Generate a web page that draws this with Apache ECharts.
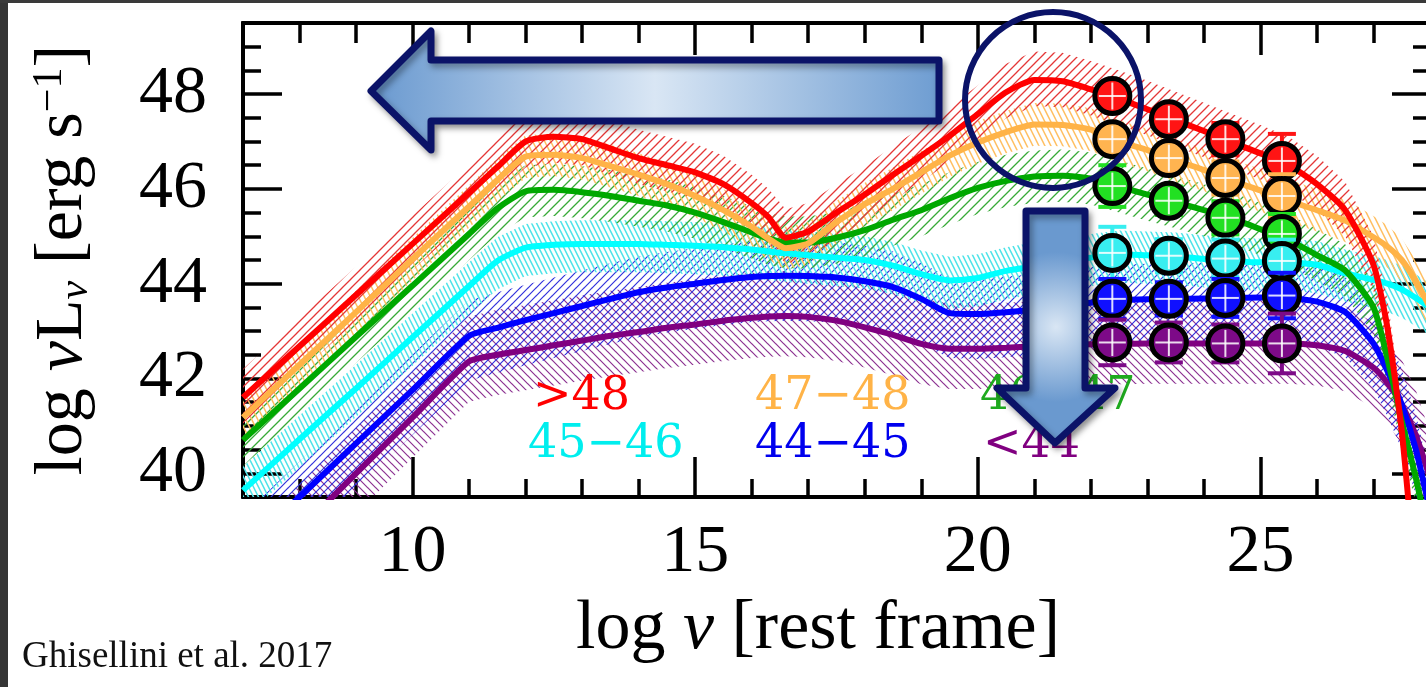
<!DOCTYPE html>
<html>
<head>
<meta charset="utf-8">
<script src="https://cdn.jsdelivr.net/npm/echarts@6/dist/echarts.min.js"></script>
<style>
html,body{margin:0;padding:0;background:#fff;}
#chart{width:1426px;height:687px;}
</style>
</head>
<body>
<div id="chart"></div>
<script>
// ---------------- data ----------------
const groupLabels = ['>48', '47\u221248', '46\u221247', '45\u221246', '44\u221245', '<44'];

// log nu grid on which the average SEDs are sampled
const xGrid = [7, 8, 9, 10, 11, 11.5, 12, 12.5, 13, 13.5, 14, 14.5, 15, 15.5, 16, 16.3, 16.6, 17, 17.5, 18, 18.5, 19, 19.5, 20, 20.5, 21, 21.5, 22, 22.5, 23, 23.5, 24, 24.5, 25, 25.5, 26, 26.5, 27, 27.25, 27.5, 27.75, 28];

// log nuL_nu of the average SED of each gamma-ray luminosity bin
const sedGt48 = [41.6, 42.68, 43.76, 44.84, 45.92, 46.46, 47.0, 47.1, 47.05, 46.85, 46.65, 46.5, 46.35, 46.1, 45.7, 45.4, 44.97, 45.1, 45.5, 45.88, 46.3, 46.7, 47.12, 47.58, 48.04, 48.3, 48.27, 48.1, 47.9, 47.68, 47.45, 47.22, 46.98, 46.75, 46.5, 46.1, 45.55, 44.4, 43.05, 40.9, 37.8, 36.0];
const sed47to48 = [41.18, 42.29, 43.4, 44.52, 45.63, 46.19, 46.68, 46.72, 46.65, 46.48, 46.3, 46.1, 45.85, 45.55, 45.2, 44.95, 44.75, 44.85, 45.3, 45.68, 46.0, 46.35, 46.7, 46.98, 47.2, 47.36, 47.35, 47.25, 47.0, 46.82, 46.6, 46.4, 46.17, 45.97, 45.75, 45.55, 45.33, 44.98, 44.78, 44.5, 44.05, 43.5];
const sed46to47 = [40.7, 41.79, 42.88, 43.96, 45.05, 45.59, 45.95, 45.98, 45.93, 45.85, 45.75, 45.65, 45.5, 45.3, 45.08, 44.95, 44.87, 44.87, 44.97, 45.13, 45.35, 45.55, 45.8, 46.02, 46.17, 46.26, 46.28, 46.22, 46.05, 45.88, 45.72, 45.55, 45.38, 45.15, 44.92, 44.6, 44.28, 43.5, 42.4, 41.1, 39.9, 38.5];
const sed45to46 = [39.64, 40.72, 41.79, 42.87, 43.95, 44.48, 44.76, 44.82, 44.84, 44.84, 44.84, 44.82, 44.8, 44.77, 44.72, 44.68, 44.64, 44.6, 44.55, 44.5, 44.38, 44.2, 44.07, 44.12, 44.27, 44.37, 44.45, 44.55, 44.62, 44.6, 44.58, 44.52, 44.48, 44.45, 44.45, 44.4, 44.22, 44.08, 44.0, 43.88, 43.7, 43.5];
const sed44to45 = [38.37, 39.5, 40.63, 41.76, 42.9, 43.07, 43.23, 43.38, 43.53, 43.68, 43.82, 43.92, 44.0, 44.08, 44.14, 44.16, 44.17, 44.16, 44.13, 44.05, 43.93, 43.68, 43.38, 43.36, 43.4, 43.45, 43.52, 43.6, 43.65, 43.67, 43.68, 43.69, 43.7, 43.71, 43.7, 43.62, 43.4, 42.74, 42.15, 41.45, 40.5, 39.2];
const sedLt44 = [37.6, 38.8, 40.0, 41.18, 42.36, 42.5, 42.6, 42.7, 42.8, 42.9, 42.98, 43.07, 43.14, 43.22, 43.28, 43.31, 43.32, 43.3, 43.22, 43.08, 42.92, 42.73, 42.63, 42.63, 42.65, 42.68, 42.7, 42.72, 42.73, 42.74, 42.74, 42.74, 42.74, 42.74, 42.74, 42.7, 42.58, 42.23, 41.9, 41.45, 40.8, 39.9];

// extent (dex) of the hatched dispersion band above / below each average SED
const bandUp = [0.6, 0.45, 0.55, 0.5, 0.75, 0.95];
const bandDown = [0.55, 0.45, 0.55, 0.6, 0.95, 0.85];

// Fermi/LAT points (log nu) and values per bin
const pointX = [22.38, 23.38, 24.38, 25.38];
const ptsGt48 = [47.96, 47.47, 47.05, 46.59];
const pts47to48 = [47.05, 46.65, 46.23, 45.85];
const pts46to47 = [46.06, 45.75, 45.39, 45.05];
const pts45to46 = [44.65, 44.59, 44.53, 44.48];
const pts44to45 = [43.68, 43.68, 43.7, 43.75];
const ptsLt44 = [42.76, 42.76, 42.74, 42.74];
// error-bar half lengths (dex)
const errGt48 = [0.15, 0.2, 0.34, 0.57];
const err47to48 = [0.2, 0.25, 0.35, 0.46];
const err46to47 = [0.44, 0.3, 0.35, 0.42];
const err45to46 = [0.55, 0.35, 0.4, 0.45];
const err44to45 = [0.42, 0.35, 0.4, 0.48];
const errLt44 = [0.48, 0.42, 0.4, 0.63];

// axis ticks
const xMajorTicks = [10, 15, 20, 25];
const xMinorTicks = [8, 9, 11, 12, 13, 14, 16, 17, 18, 19, 21, 22, 23, 24, 26, 27];
const yMajorTicks = [40, 42, 44, 46, 48];
const yMinorTicks = [40.5, 41, 41.5, 42.5, 43, 43.5, 44.5, 45, 45.5, 46.5, 47, 47.5, 48.5, 49];

// ---------------- styling ----------------
const seds = [sedGt48, sed47to48, sed46to47, sed45to46, sed44to45, sedLt44];
const pts = [ptsGt48, pts47to48, pts46to47, pts45to46, pts44to45, ptsLt44];
const errs = [errGt48, err47to48, err46to47, err45to46, err44to45, errLt44];
const lineColors = ['#ff0000', '#ffb347', '#00a800', '#00ffff', '#0000ff', '#800080'];
const pointColors = ['#ff1414', '#ffb450', '#22e022', '#38eef0', '#1010ff', '#7d0a88'];
const textColors = ['#ff0000', '#ffb347', '#1eaa1e', '#00eeee', '#0000ee', '#800080'];
const hatchDefs = [
  {c: 'rgb(228,55,55)', d: '/', w: 9, h: 9, lw: 1.3},
  {c: 'rgb(255,192,100)', d: '\\', w: 6, h: 12, lw: 1.5},
  {c: 'rgb(55,170,55)', d: '/', w: 10, h: 10, lw: 1.3},
  {c: 'rgb(80,228,232)', d: '\\', w: 5, h: 10, lw: 1.5},
  {c: 'rgb(50,50,220)', d: '/', w: 8, h: 8, lw: 1.2},
  {c: 'rgb(140,50,145)', d: '\\', w: 8, h: 8, lw: 1.2}
];
const SERIF = 'Liberation Serif';

function hatch(def) {
  const cv = document.createElement('canvas');
  cv.width = def.w; cv.height = def.h;
  const g = cv.getContext('2d');
  g.strokeStyle = def.c; g.lineWidth = def.lw; g.lineCap = 'square';
  g.beginPath();
  for (let k = -1; k <= 1; k++) {
    if (def.d === '/') { g.moveTo(k * def.w, def.h); g.lineTo(k * def.w + def.w, 0); }
    else { g.moveTo(k * def.w, 0); g.lineTo(k * def.w + def.w, def.h); }
  }
  g.stroke();
  return {image: cv, repeat: 'repeat'};
}

const series = [];
// hatched bands: polygon between sed - down and sed + up, placed with the axes' scales
for (let i = seds.length - 1; i >= 0; i--) {
  const rows = xGrid.map((x, k) => [x, seds[i][k] - bandDown[i], seds[i][k] + bandUp[i]]);
  const fillPattern = hatch(hatchDefs[i]);
  series.push({
    type: 'custom', silent: true, z: 1, clip: true,
    data: rows,
    renderItem: function (params, api) {
      if (params.dataIndex !== 0) return null;
      const upper = rows.map(r => api.coord([r[0], r[2]]));
      const lower = rows.map(r => api.coord([r[0], r[1]])).reverse();
      return {type: 'polygon', shape: {points: upper.concat(lower)}, style: {fill: fillPattern, stroke: null}};
    }
  });
}
// average SED lines
for (let i = seds.length - 1; i >= 0; i--) {
  series.push({
    type: 'line', name: groupLabels[i], symbol: 'none', smooth: 0.2, z: 3,
    lineStyle: {color: lineColors[i], width: 6},
    data: xGrid.map((x, k) => [x, seds[i][k]])
  });
}
// gamma-ray points with error bars
for (let i = 0; i < pts.length; i++) {
  const col = pointColors[i];
  series.push({
    type: 'custom', z: 6,
    data: pointX.map((x, k) => [x, pts[i][k], pts[i][k] - errs[i][k], pts[i][k] + errs[i][k]]),
    renderItem: function (params, api) {
      const c = api.coord([api.value(0), api.value(1)]);
      const lo = api.coord([api.value(0), api.value(2)]);
      const hi = api.coord([api.value(0), api.value(3)]);
      const cap = 14, r = 17.5;
      const ls = {stroke: col, lineWidth: 4};
      const ws = {stroke: 'rgba(255,255,255,0.85)', lineWidth: 2};
      return {type: 'group', children: [
        {type: 'line', shape: {x1: c[0], y1: lo[1], x2: c[0], y2: hi[1]}, style: ls},
        {type: 'line', shape: {x1: c[0] - cap, y1: lo[1], x2: c[0] + cap, y2: lo[1]}, style: ls},
        {type: 'line', shape: {x1: c[0] - cap, y1: hi[1], x2: c[0] + cap, y2: hi[1]}, style: ls},
        {type: 'circle', shape: {cx: c[0], cy: c[1], r: r}, style: {fill: col, stroke: '#000', lineWidth: 5}},
        {type: 'line', shape: {x1: c[0] - r + 4, y1: c[1], x2: c[0] + r - 4, y2: c[1]}, style: ws},
        {type: 'line', shape: {x1: c[0], y1: c[1] - r + 4, x2: c[0], y2: c[1] + r - 4}, style: ws}
      ]};
    }
  });
}

function xAx(pos, ticks, len, labels, extra) {
  return Object.assign({
    type: 'value', min: 7, max: 28, position: pos,
    axisLine: {show: true, onZero: false, lineStyle: {color: '#000', width: 4}},
    axisTick: {show: true, inside: true, length: len, customValues: ticks, lineStyle: {color: '#000', width: 3.5}},
    axisLabel: labels ? {show: true, customValues: labels, fontFamily: SERIF, fontSize: 68, color: '#000', margin: 22} : {show: false},
    splitLine: {show: false}
  }, extra || {});
}
function yAx(pos, ticks, len, labels, extra) {
  return Object.assign({
    type: 'value', min: 39.5, max: 49.5, position: pos,
    axisLine: {show: true, onZero: false, lineStyle: {color: '#000', width: 4}},
    axisTick: {show: true, inside: true, length: len, customValues: ticks, lineStyle: {color: '#000', width: 3.5}},
    axisLabel: labels ? {show: true, customValues: labels, fontFamily: SERIF, fontSize: 68, color: '#000', margin: 36} : {show: false},
    splitLine: {show: false}
  }, extra || {});
}

const graphics = [
  {type: 'rect', shape: {x: 0, y: 0, width: 8, height: 687}, style: {fill: '#353535'}, z: 200},
  {type: 'rect', shape: {x: 0, y: 0, width: 1426, height: 3}, style: {fill: '#3a3a3a'}, z: 200},
  {type: 'text', x: 22, y: 657, style: {text: 'Ghisellini et al. 2017', fontFamily: SERIF, fontSize: 37, fill: '#111', verticalAlign: 'middle'}, z: 60}
];
const legendPos = [[533, 397], [755, 397], [980, 397], [528, 445], [755, 445], [983, 445]];
groupLabels.forEach((t, i) => {
  graphics.push({type: 'text', x: legendPos[i][0], y: legendPos[i][1], z: 50,
    style: {text: t, fontFamily: 'DejaVu Serif', fontSize: 46, fill: textColors[i], verticalAlign: 'middle', align: 'left'}});
});
const arrowStroke = '#0b1368';
const arrowShadow = {shadowBlur: 6, shadowOffsetX: 3, shadowOffsetY: 4, shadowColor: 'rgba(0,0,0,0.35)'};
graphics.push({type: 'polygon', z: 100,
  shape: {points: [[371, 91], [431, 31], [431, 60], [939, 60], [939, 121], [431, 121], [431, 150]]},
  style: Object.assign({
    fill: new echarts.graphic.LinearGradient(0, 0, 1, 0, [
      {offset: 0, color: '#6898cf'}, {offset: 0.5, color: '#d9e6f4'}, {offset: 1, color: '#6d9cd1'}]),
    stroke: arrowStroke, lineWidth: 7, lineJoin: 'round'}, arrowShadow)});
graphics.push({type: 'circle', z: 100, shape: {cx: 1053, cy: 100, r: 88},
  style: {fill: 'none', stroke: arrowStroke, lineWidth: 6}});
graphics.push({type: 'polygon', z: 100,
  shape: {points: [[1026, 211], [1085, 211], [1085, 388], [1115, 388], [1055, 443], [997, 388], [1026, 388]]},
  style: Object.assign({
    fill: new echarts.graphic.RadialGradient(0.5, 0.5, 0.6, [
      {offset: 0, color: '#d9e6f4'}, {offset: 1, color: '#6a99cf'}]),
    stroke: arrowStroke, lineWidth: 7, lineJoin: 'round'}, arrowShadow)});

const chart = echarts.init(document.getElementById('chart'), null, {renderer: 'canvas'});
chart.setOption({
  animation: false,
  backgroundColor: '#fff',
  grid: {left: 243, top: 23, right: -4, bottom: 190, containLabel: false, outerBoundsMode: 'none'},
  xAxis: [
    xAx('bottom', xMajorTicks, 40, xMajorTicks, {
      name: 'log {nu|\u03bd} [rest frame]', nameLocation: 'middle', nameGap: 98,
      nameTextStyle: {fontFamily: SERIF, fontSize: 70, color: '#000', padding: [0, 37, 0, 0],
        rich: {nu: {fontFamily: SERIF, fontSize: 70, fontStyle: 'italic', color: '#000'}}}
    }),
    xAx('bottom', xMinorTicks, 18, null),
    xAx('top', xMajorTicks, 32, null),
    xAx('top', xMinorTicks, 20, null)
  ],
  yAxis: [
    yAx('left', yMajorTicks, 39, yMajorTicks, {
      name: 'log {nu|\u03bd}L{sub|\u03bd} [erg s{sup|\u22121}]', nameLocation: 'middle', nameRotate: 90, nameGap: 146,
      nameTextStyle: {fontFamily: SERIF, fontSize: 68, color: '#000', lineHeight: 68,
        rich: {
          nu: {fontFamily: SERIF, fontSize: 68, fontStyle: 'italic', color: '#000', lineHeight: 68},
          sub: {fontFamily: SERIF, fontSize: 42, fontStyle: 'italic', color: '#000', lineHeight: 30, verticalAlign: 'bottom'},
          sup: {fontFamily: SERIF, fontSize: 42, color: '#000', lineHeight: 42, verticalAlign: 'top'}
        }}
    }),
    yAx('left', yMinorTicks, 18, null),
    yAx('right', yMajorTicks, 38, null),
    yAx('right', yMinorTicks, 17, null)
  ],
  series: series,
  graphic: {elements: graphics}
});
</script>
</body>
</html>
